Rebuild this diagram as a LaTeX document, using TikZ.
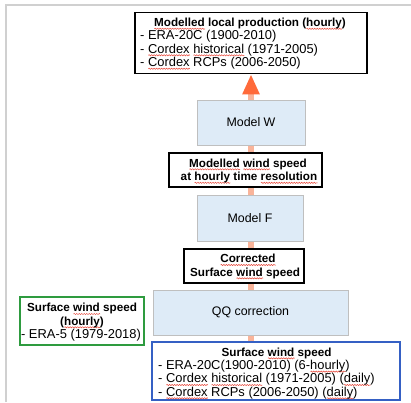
\documentclass[tikz,border=0pt]{standalone}
\usepackage{fontspec}
\setmainfont{Liberation Sans}
\usetikzlibrary{arrows.meta,decorations.pathmorphing}
\definecolor{modelfill}{HTML}{DEEBF7}
\definecolor{modeldraw}{HTML}{BFBFBF}
\definecolor{framegray}{HTML}{D0D0D0}
\definecolor{shaftcol}{HTML}{F9B49A}
\definecolor{headcol}{HTML}{FF6A3A}
\definecolor{greenbox}{HTML}{2E9B3F}
\definecolor{bluebox}{HTML}{3560C4}
\definecolor{squig}{HTML}{E8473A}
\pgfdeclarelayer{bg}
\pgfsetlayers{bg,main}
\newlength\sqlen
\newcommand\sq[1]{\settowidth\sqlen{#1}\rlap{\smash{\tikz[baseline=0pt,x=1pt,y=1pt]\draw[squig,line width=0.5pt,decorate,decoration={snake,amplitude=0.6pt,segment length=2.5pt}] (0,-2.3) -- (\the\sqlen,-2.3);}}#1}
\begin{document}
\begin{tikzpicture}[x=1pt,y=-1pt,
  txt/.style={inner sep=0pt,font=\fontsize{12.9}{13}\selectfont},
  btxt/.style={inner sep=0pt,font=\fontsize{11.7}{13}\selectfont\bfseries},
  modelbox/.style={draw=modeldraw,fill=modelfill,line width=1pt,inner sep=0pt,font=\fontsize{12.4}{13}\selectfont},
  labelbox/.style={draw=black,fill=white,line width=1.5pt,inner sep=0pt},
  greenframe/.style={draw=greenbox,fill=white,line width=1.5pt,inner sep=0pt},
  blueframe/.style={draw=bluebox,fill=white,line width=1.5pt,inner sep=0pt}]
\useasboundingbox (0,0) rectangle (411,402);
\draw[framegray,line width=1.5pt] (6,402) -- (6,5) -- (411,5);

% top box
\node[labelbox,minimum width=232pt,minimum height=61pt] (top) at (251,43) {};
\node[btxt,anchor=base] (topT) at (250,26.5) {\sq{Modelled} local production (\sq{hourly})};
\node[txt,anchor=base west] (topA) at (140,39.5) {- ERA-20C (1900-2010)};
\node[txt,anchor=base west] (topB) at (140,53) {- \sq{Cordex} \sq{historical} (1971-2005)};
\node[txt,anchor=base west] (topC) at (140,66.5) {- \sq{Cordex} RCPs (2006-2050)};

% Model W
\node[modelbox,minimum width=108pt,minimum height=45pt] (mw) at (251,122.5) {Model W};

% label 1
\node[labelbox,minimum width=153pt,minimum height=34pt] (lab1) at (245.5,170) {};
\node[btxt,anchor=base] (lab1a) at (248,167) {\sq{Modelled} \sq{wind} speed};
\node[btxt,anchor=base] (lab1b) at (249,180.5) {at \sq{hourly} time \sq{resolution}};

% Model F
\node[modelbox,minimum width=106pt,minimum height=46pt] (mf) at (250,218) {Model F};

% label 2
\node[labelbox,minimum width=120pt,minimum height=34pt] (lab2) at (244,266) {};
\node[btxt,anchor=base] (lab2a) at (248,262.7) {\sq{Corrected}};
\node[btxt,anchor=base] (lab2b) at (245,276) {Surface \sq{wind} speed};

% QQ correction
\node[modelbox,minimum width=195pt,minimum height=45pt] (qq) at (250.5,312.5) {QQ correction};

% green box
\node[greenframe,minimum width=124pt,minimum height=48pt] (gbox) at (82,321) {};
\node[btxt,anchor=base] (g1) at (82,311.7) {Surface \sq{wind} speed};
\node[btxt,anchor=base] (g2) at (82,325) {(\sq{hourly})};
\node[txt,anchor=base] (g3) at (81,338.3) {- ERA-5 (1979-2018)};

% blue box
\node[blueframe,minimum width=248pt,minimum height=58pt] (bbox) at (276,371) {};
\node[btxt,anchor=base] (b0) at (276.5,356) {Surface \sq{wind} speed};
\node[txt,anchor=base west] (b1) at (158,369.3) {- ERA-20C(1900-2010) (6-\sq{hourly})};
\node[txt,anchor=base west] (b2) at (158,382.7) {- \sq{Cordex} \sq{historical} (1971-2005) (\sq{daily})};
\node[txt,anchor=base west] (b3) at (158,396) {- \sq{Cordex} RCPs (2006-2050) (\sq{daily})};

% arrow behind boxes
\coordinate (src) at (bbox.north -| top.south);
\begin{pgfonlayer}{bg}
\draw[shaftcol,line width=6pt,-{Triangle[width=16pt,length=20pt,color=headcol]}] (src) -- (top.south);
\end{pgfonlayer}
\end{tikzpicture}
\end{document}
